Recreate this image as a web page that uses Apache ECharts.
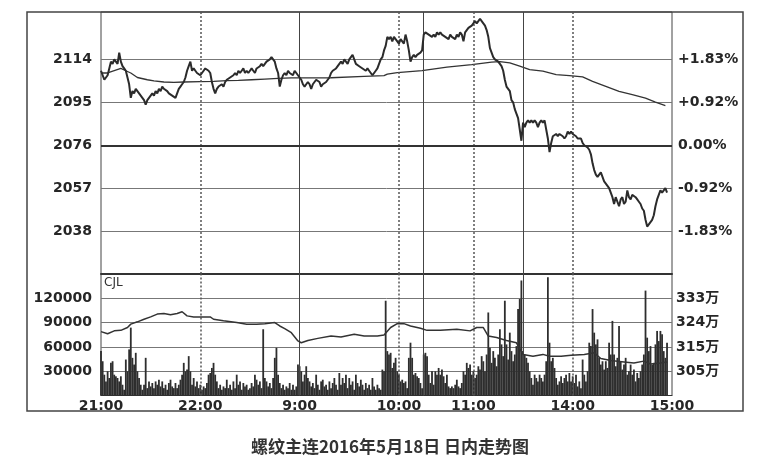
<!DOCTYPE html>
<html><head><meta charset="utf-8">
<script src="https://cdn.jsdelivr.net/npm/echarts@6/dist/echarts.min.js"></script>
<style>html,body{margin:0;padding:0;background:#fff}#c{width:758px;height:463px}</style>
</head><body><div id="c"></div>
<script>
// ---- trading sessions: [startHour, startMinute, minutes] ----
const SESSIONS = [[21, 0, 120], [9, 0, 75], [10, 30, 60], [13, 30, 90]];
const CLOSE_TIME = '15:00';
const X_LABELS = ['21:00', '22:00', '9:00', '10:00', '11:00', '14:00', '15:00'];
const SOLID_TIMES = ['9:00', '10:30', '13:30'];
const DOTTED_TIMES = ['22:00', '10:00', '11:00', '14:00'];

const BASE_PRICE = 2076;
const PRICE_TICKS = [2038, 2057, 2076, 2095, 2114];
const VOLUME_TICKS = [30000, 60000, 90000, 120000];
const OI_TICKS = [3052000, 3146000, 3240000, 3334000];
const CAPTION = '螺纹主连2016年5月18日 日内走势图';

// ---- price per minute ----
const PRICE = [
 2109,2107,2105,2106,2107,2110,2113,2112,2114,2113,
 2112,2117,2113,2111,2110,2109,2106,2103,2097,2100,
 2099,2101,2100,2099,2098,2097,2096,2094,2096,2097,
 2098,2099,2098,2100,2099,2101,2100,2102,2101,2101,
 2100,2099,2099,2098,2098,2097,2099,2101,2102,2103,
 2104,2106,2109,2111,2113,2109,2110,2109,2108,2108,
 2107,2108,2109,2110,2110,2109,2108,2104,2101,2099,
 2101,2102,2102,2103,2102,2104,2105,2105,2106,2106,
 2107,2108,2107,2109,2108,2109,2110,2108,2109,2108,
 2109,2110,2109,2108,2110,2110,2111,2112,2111,2112,
 2113,2113,2114,2115,2114,2113,2110,2108,2102,2105,
 2107,2108,2107,2109,2108,2108,2107,2109,2108,2107,
 2106,2105,2103,2102,2103,2104,2103,2101,2103,2104,
 2105,2105,2104,2102,2103,2103,2104,2104,2106,2108,
 2109,2109,2110,2110,2112,2113,2112,2114,2113,2112,
 2114,2115,2116,2114,2112,2112,2111,2111,2110,2110,
 2109,2110,2109,2108,2107,2108,2109,2110,2112,2114,
 2115,2118,2120,2124,2123,2124,2122,2124,2123,2122,
 2121,2123,2122,2121,2125,2122,2118,2113,2115,2116,
 2115,2116,2116,2117,2118,
 2125,2126,2126,2125,2125,2124,2125,2124,2126,2125,
 2126,2125,2125,2124,2124,2123,2125,2124,2124,2123,
 2125,2124,2126,2125,2122,2126,2127,2128,2128,2129,
 2130,2131,2130,2131,2132,2131,2130,2129,2127,2124,
 2119,2117,2115,2114,2114,2113,2113,2111,2109,2105,
 2102,2101,2100,2096,2095,2092,2090,2088,2083,2078,
 2086,2084,2086,2087,2086,2087,2086,2087,2086,2084,
 2086,2087,2086,2087,2083,2079,2073,2077,2080,2080,
 2081,2080,2081,2081,2080,2079,2080,2082,2081,2082,
 2081,2081,2080,2079,2079,2079,2077,2076,2076,2075,
 2074,2072,2068,2065,2063,2062,2062,2064,2062,2060,
 2059,2058,2057,2055,2053,2050,2053,2051,2049,2052,
 2053,2050,2051,2056,2053,2052,2054,2054,2053,2052,
 2051,2050,2048,2047,2043,2040,2041,2042,2043,2045,
 2049,2052,2054,2056,2055,2056,2057,2055
];

// ---- average price: [minute index, value] ----
const AVG_POINTS = [
 [0,2108],[4,2108],[8,2109],[12,2110],[15,2109],[18,2108],[22,2106],[28,2105],[32,2104.5],
 [38,2104],[44,2103.8],[50,2104],[60,2104.2],[68,2104.3],[76,2104.6],[83,2104.7],[91,2105],
 [99,2105.3],[107,2105.6],[115,2105.8],[120,2105.8],[139,2105.9],[159,2106.5],[171,2106.8],
 [173,2107.5],[179,2108.2],[194,2109],[209,2110.6],[224,2111.7],[236,2112.8],[241,2113],
 [247,2112.5],[253,2111],[259,2109.5],[267,2108.8],[275,2107.3],[283,2106.8],[291,2106.3],
 [297,2104.3],[305,2102.1],[313,2099.9],[321,2098.4],[329,2096.9],[335,2095.1],[341,2093.5]
];

// ---- volume per minute (CJL) ----
const VOLUME = [
 54800,42300,25700,17400,29900,21600,40300,42300,25700,23700,
 21600,17400,23700,13300,7100,44400,29900,56900,83800,46500,
 38200,52700,29900,21600,13300,7100,13300,46500,9100,17400,
 11200,15400,9100,17400,13300,19500,11200,17400,9100,13300,
 7100,15400,19500,11200,9100,15400,9100,13300,19500,25700,
 40300,29900,32000,48600,29900,13300,21600,11200,17400,9100,
 13300,7100,11200,9100,15400,25700,27800,34000,40300,25700,
 17400,9100,13300,7100,11200,9100,19500,9100,13300,7100,
 17400,9100,25700,13300,17400,7100,15400,11200,13300,7100,
 9100,15400,11200,25700,19500,13300,17400,9100,81800,21600,
 17400,11200,15400,9100,21600,46500,58900,25700,15400,9100,
 13300,7100,11200,9100,15400,7100,13300,7100,11200,38200,
 36100,29900,17400,25700,36100,21600,17400,11200,15400,9100,
 25700,13300,7100,17400,19500,11200,13300,7100,17400,9100,
 15400,21600,13300,7100,27800,13300,21600,15400,25700,9100,
 21600,13300,17400,7100,25700,15400,11200,19500,13300,7100,
 15400,9100,13300,7100,21600,11200,7100,13300,9100,7100,
 32000,29900,117000,54800,50600,52700,34000,40300,46500,29900,
 25700,17400,19500,15400,17400,9100,46500,65200,46500,25700,
 27800,23700,21600,15400,9100,50600,52700,48600,25700,15400,
 29900,13300,29900,25700,34000,25700,32000,23700,15400,25700,
 11200,9100,11200,9100,13300,19500,11200,9100,15400,29900,
 25700,40300,34000,38200,25700,29900,21600,25700,36100,32000,
 48600,42300,29900,50600,102500,58900,40300,54800,46500,36100,
 50600,81800,63100,48600,117000,63100,44400,77600,54800,42300,
 50600,61000,106700,119100,142000,54800,50600,46500,40300,29900,
 21600,13300,25700,21600,17400,25700,21600,17400,25700,42300,
 146000,65200,42300,46500,34000,21600,13300,17400,23700,15400,
 21600,25700,17400,27800,17400,23700,15400,25700,11200,17400,
 9100,44400,25700,17400,29900,65200,61000,106700,77600,63100,
 69300,46500,38200,42300,32000,42300,34000,65200,50600,92100,
 50600,36100,46500,85900,42300,32000,38200,46500,25700,29900,
 38200,25700,32000,17400,27800,21600,29900,38200,50600,129500,
 71400,54800,61000,38200,40300,63100,79700,67200,79700,75500,
 54800,46500,65200
];

// ---- open interest: [minute index, value] ----
const OI_POINTS = [
 [0,3205000],[4,3197000],[8,3208000],[12,3210000],[16,3221000],[18,3234000],[22,3243000],
 [26,3253000],[30,3262000],[34,3273000],[38,3275000],[42,3270000],[46,3275000],[49,3282000],
 [52,3266000],[56,3262000],[66,3262000],[68,3253000],[74,3247000],[82,3240000],[88,3234000],
 [94,3234000],[99,3236000],[105,3240000],[108,3227000],[111,3217000],[115,3201000],[119,3169000],
 [121,3162000],[125,3171000],[131,3179000],[139,3188000],[145,3184000],[153,3195000],[159,3188000],
 [167,3188000],[171,3192000],[175,3221000],[179,3236000],[183,3236000],[187,3227000],[193,3218000],
 [197,3210000],[205,3210000],[215,3214000],[223,3208000],[227,3221000],[231,3221000],[234,3188000],
 [239,3182000],[245,3171000],[251,3162000],[255,3117000],[261,3110000],[267,3117000],[271,3110000],
 [278,3110000],[284,3114000],[292,3117000],[298,3123000],[302,3101000],[308,3093000],[316,3088000],
 [322,3084000],[328,3091000],[332,3080000],[338,3084000],[342,3088000]
];

// ---- build the minute time axis from the sessions ----
const TIMES = [];
SESSIONS.forEach(([h, m, n]) => {
  for (let i = 0; i < n; i++) {
    const t = h * 60 + m + i;
    TIMES.push(Math.floor(t / 60) + ':' + String(t % 60).padStart(2, '0'));
  }
});
TIMES.push(CLOSE_TIME);

const avgData = AVG_POINTS.map(([i, v]) => [TIMES[i], v]);
const oiData = OI_POINTS.map(([i, v]) => [TIMES[i], v]);

const FONT = "'DejaVu Sans','Noto Sans CJK SC',sans-serif";
const LBL = { color: '#262626', fontFamily: FONT, fontWeight: 'bold', fontSize: 14 };

const vLines = [
  ...SOLID_TIMES.map(t => ({ xAxis: t, lineStyle: { type: 'solid', width: 1, color: '#444' } })),
  ...DOTTED_TIMES.map(t => ({ xAxis: t, lineStyle: { type: [2, 2], width: 1.5, color: '#555' } }))
];

function pct(v) {
  const p = (v - BASE_PRICE) / BASE_PRICE * 100;
  const sign = p > 0.005 ? '+' : (p < -0.005 ? '-' : '');
  return sign + Math.abs(p).toFixed(2) + '%';
}

const chart = echarts.init(document.getElementById('c'));
chart.setOption({
  animation: false,
  backgroundColor: '#fff',
  title: {
    text: CAPTION, left: 246, top: 433,
    textStyle: { fontFamily: "'Noto Sans CJK SC',sans-serif", fontSize: 17, fontWeight: 'bold', color: '#333' }
  },
  graphic: [
    { type: 'rect', silent: true, shape: { x: 27, y: 12, width: 716, height: 399 },
      style: { fill: 'none', stroke: '#444', lineWidth: 1.5 } },
    { type: 'text', silent: true, left: 104, top: 277,
      style: { text: 'CJL', font: "12px 'DejaVu Sans'", fill: '#333' } }
  ],
  grid: [
    { left: 101, right: 86, top: 12, height: 262, show: true, borderColor: '#444', borderWidth: 1 },
    { left: 101, right: 86, top: 274, height: 121.5, show: true, borderColor: '#444', borderWidth: 1 }
  ],
  xAxis: [
    { type: 'category', gridIndex: 0, data: TIMES, boundaryGap: false,
      axisLine: { show: true, lineStyle: { color: '#333', width: 2 } },
      axisTick: { show: false }, axisLabel: { show: false }, splitLine: { show: false } },
    { type: 'category', gridIndex: 1, data: TIMES, boundaryGap: false,
      axisLine: { show: true, lineStyle: { color: '#333', width: 1 } },
      axisTick: { show: false },
      axisLabel: Object.assign({}, LBL, { interval: (i, v) => X_LABELS.includes(v), margin: 4 }),
      splitLine: { show: false } }
  ],
  yAxis: [
    { type: 'value', gridIndex: 0, position: 'left', min: 2019, max: 2135,
      axisLine: { show: false }, axisTick: { show: false, customValues: PRICE_TICKS },
      axisLabel: Object.assign({}, LBL, { customValues: PRICE_TICKS, margin: 9, formatter: v => String(v) }),
      splitLine: { show: true, lineStyle: { color: '#777', width: 1 } } },
    { type: 'value', gridIndex: 0, position: 'right', min: 2019, max: 2135,
      axisLine: { show: false }, axisTick: { show: false, customValues: PRICE_TICKS },
      axisLabel: Object.assign({}, LBL, { customValues: PRICE_TICKS, margin: 6, formatter: pct }),
      splitLine: { show: false } },
    { type: 'value', gridIndex: 1, position: 'left', min: 0, max: 150000,
      axisLine: { show: false }, axisTick: { show: false, customValues: VOLUME_TICKS },
      axisLabel: Object.assign({}, LBL, { customValues: VOLUME_TICKS, margin: 9, formatter: v => String(v) }),
      splitLine: { show: true, lineStyle: { color: '#777', width: 1 } } },
    { type: 'value', gridIndex: 1, position: 'right', min: 2958000, max: 3428000,
      axisLine: { show: false }, axisTick: { show: false, customValues: OI_TICKS },
      axisLabel: Object.assign({}, LBL, { customValues: OI_TICKS, margin: 4,
        formatter: v => Math.round(v / 10000) + '万' }),
      splitLine: { show: false } }
  ],
  series: [
    { name: '价格', type: 'line', xAxisIndex: 0, yAxisIndex: 0, data: PRICE,
      showSymbol: false, lineStyle: { color: '#2b2b2b', width: 2 }, z: 5,
      markLine: { silent: true, symbol: ['none', 'none'], label: { show: false }, animation: false,
        data: [...vLines, { yAxis: BASE_PRICE, lineStyle: { type: 'solid', width: 2, color: '#333' } }] } },
    { name: '均价', type: 'line', xAxisIndex: 0, yAxisIndex: 0, data: avgData,
      showSymbol: false, lineStyle: { color: '#333', width: 1.3 }, z: 4 },
    { name: '成交量', type: 'bar', xAxisIndex: 1, yAxisIndex: 2, data: VOLUME,
      itemStyle: { color: '#2e2e2e' }, barWidth: 1.8,
      markLine: { silent: true, symbol: ['none', 'none'], label: { show: false }, animation: false, data: vLines } },
    { name: '持仓量', type: 'line', xAxisIndex: 1, yAxisIndex: 3, data: oiData,
      showSymbol: false, lineStyle: { color: '#333', width: 1.5 }, z: 5 }
  ]
});
</script>
</body></html>
